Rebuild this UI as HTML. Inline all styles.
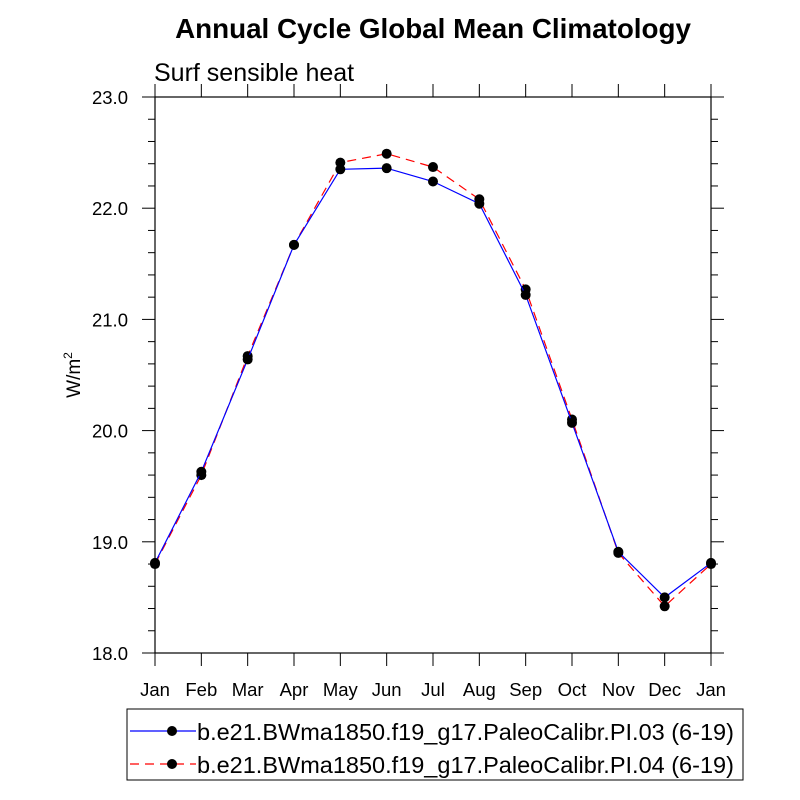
<!DOCTYPE html>
<html><head><meta charset="utf-8"><style>body{margin:0;background:#fff}svg{display:block}text{font-family:"Liberation Sans",sans-serif}</style></head>
<body>
<svg id="chart" width="800" height="800" xmlns="http://www.w3.org/2000/svg">
<text x="433" y="38" font-size="27.8" font-weight="bold" text-anchor="middle">Annual Cycle Global Mean Climatology</text>
<text x="154" y="81" font-size="25">Surf sensible heat</text>
<text transform="translate(80,375) rotate(-90)" font-size="19" text-anchor="middle">W/m<tspan font-size="12" dy="-8">2</tspan></text>
<g id="axes"></g>
<g id="series"></g>
<g>
<rect x="127" y="709" width="616" height="71" fill="none" stroke="#000" stroke-width="1"/>
<g>
<line x1="130" y1="731" x2="196" y2="731" stroke="#0000ff" stroke-width="1.2"/>
<circle cx="172" cy="731" r="5" fill="#000"/>
<text x="197" y="740" font-size="23.5">b.e21.BWma1850.f19_g17.PaleoCalibr.PI.03 (6-19)</text>
</g>
<g>
<line x1="130" y1="764" x2="196" y2="764" stroke="#ff0000" stroke-width="1.2" stroke-dasharray="9,6"/>
<circle cx="172" cy="764" r="5" fill="#000"/>
<text x="197" y="773" font-size="23.5">b.e21.BWma1850.f19_g17.PaleoCalibr.PI.04 (6-19)</text>
</g>
</g>
</svg>
<script>
const months = ["Jan","Feb","Mar","Apr","May","Jun","Jul","Aug","Sep","Oct","Nov","Dec","Jan"];
const pi03 = [18.81,19.63,20.64,21.67,22.35,22.36,22.24,22.04,21.22,20.07,18.91,18.50,18.81];
const pi04 = [18.80,19.60,20.67,21.67,22.41,22.49,22.37,22.08,21.27,20.10,18.90,18.42,18.80];
const yTicks = [18.0,19.0,20.0,21.0,22.0,23.0];
const yMin = 18, yMax = 23;
const L = 155, R = 711, T = 97, B = 653;
const NS = "http://www.w3.org/2000/svg";
function xs(i){ return L + (R - L) * i / (months.length - 1); }
function ys(v){ return B - (v - yMin) / (yMax - yMin) * (B - T); }
function mk(tag, attrs, parent){ const e = document.createElementNS(NS, tag); for (const k in attrs) e.setAttribute(k, attrs[k]); parent.appendChild(e); return e; }
const axes = document.getElementById('axes');
const frame = mk('rect', {x:L, y:T, width:R-L, height:B-T, fill:'none', stroke:'#000', 'stroke-width':1.2}, axes);


months.forEach((m, i) => {
  const x = xs(i);
  mk('line', {x1:x, y1:B, x2:x, y2:B+13, stroke:'#000'}, axes);
  mk('line', {x1:x, y1:T, x2:x, y2:T-13, stroke:'#000'}, axes);
  const t = mk('text', {x:x, y:B+43, 'font-size':18.5, 'text-anchor':'middle'}, axes);
  t.textContent = m;
  
  
});
for (let v = yMin; v <= yMax + 1e-9; v += 0.2) {
  const y = ys(v);
  const major = Math.abs(v - Math.round(v)) < 1e-6;
  const len = major ? 13 : 7;
  mk('line', {x1:L-len, y1:y, x2:L, y2:y, stroke:'#000'}, axes);
  mk('line', {x1:R, y1:y, x2:R+len, y2:y, stroke:'#000'}, axes);
}
yTicks.forEach(v => {
  const t = mk('text', {x:L-27, y:ys(v)+7, 'font-size':18.5, 'text-anchor':'end'}, axes);
  t.textContent = v.toFixed(1);
  
  
});
const sg = document.getElementById('series');
function drawSeries(vals, color, dash, name){
  const pts = vals.map((v, i) => xs(i) + ',' + ys(v)).join(' ');
  const pl = mk('polyline', {points:pts, fill:'none', stroke:color, 'stroke-width':1.2, 'stroke-dasharray':dash}, sg);
  
  
  vals.forEach((v, i) => {
    const c = mk('circle', {cx:xs(i), cy:ys(v), r:5, fill:'#000'}, sg);
    
    
  });
}
drawSeries(pi04, '#ff0000', '9,6', 'pi04');
drawSeries(pi03, '#0000ff', 'none', 'pi03');
</script>
</body></html>
